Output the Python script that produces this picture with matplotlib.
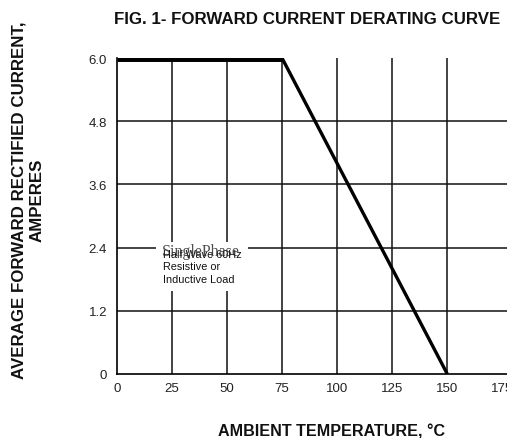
import matplotlib
matplotlib.use("Agg")
import matplotlib.pyplot as plt

# ---- data ----
temp_c = [0, 75, 150]
current_a = [6.0, 6.0, 0.0]
x_ticks = [0, 25, 50, 75, 100, 125, 150, 175]
x_tick_labels = ["0", "25", "50", "75", "100", "125", "150", "175"]
x_grid = [25, 50, 75, 100, 125, 150]
y_ticks = [0, 1.2, 2.4, 3.6, 4.8, 6.0]
y_tick_labels = ["0", "1.2", "2.4", "3.6", "4.8", "6.0"]

title = "FIG. 1- FORWARD CURRENT DERATING CURVE"
xlabel = "AMBIENT TEMPERATURE, \u00b0C"
ylabel = "AVERAGE FORWARD RECTIFIED CURRENT,\nAMPERES"

plt.rcParams['font.family'] = ['Liberation Sans', 'DejaVu Sans']

W, H = 507, 439
fig = plt.figure(figsize=(W / 100, H / 100), dpi=100)
left_px, right_px, top_px, bot_px = 116.7, 557.5, 59, 375
ax = fig.add_axes([left_px / W, (H - bot_px) / H, (right_px - left_px) / W, (bot_px - top_px) / H])
ax.set_xlim(0, 200)
ax.set_ylim(0, 6.0)

# grid
ax.vlines(x_grid, 0, 6.0, colors='#111111', linewidth=1.1, zorder=1)
for yv in y_ticks[1:-1]:
    ax.axhline(yv, color='#111111', linewidth=1.1, zorder=1)

# curve
ax.plot(temp_c[:2], current_a[:2], color='black', linewidth=5, solid_capstyle='butt', zorder=3)
ax.plot(temp_c[1:], current_a[1:], color='black', linewidth=2.4, solid_capstyle='butt', zorder=3)

for s in ['top', 'right']:
    ax.spines[s].set_visible(False)
for s in ['left', 'bottom']:
    ax.spines[s].set_linewidth(1.2)

ax.set_xticks(x_ticks)
ax.set_xticklabels(x_tick_labels)
ax.set_yticks(y_ticks)
ax.set_yticklabels(y_tick_labels)
ax.tick_params(axis='both', length=0, labelsize=9.5, labelcolor='#222222')
ax.tick_params(axis='x', pad=6)
ax.tick_params(axis='y', pad=7)

# annotation box
ax.text(20.8, 2.38, "Half Wave 60Hz\nResistive or\nInductive Load", fontsize=7.8,
        va='top', ha='left', linespacing=1.32, color='#111111', zorder=4,
        bbox=dict(facecolor='white', edgecolor='none', pad=5))
ax.text(20.3, 2.33, "SinglePhase", fontsize=11.5, family='Liberation Serif',
        va='center', ha='left', color='#222222', alpha=0.8, zorder=5)

# titles
fig.text(307 / W, 1 - 19 / H, title, fontsize=12.2, fontweight='bold', ha='center', va='center',
         color='#111111')
fig.text(332 / W, 1 - 432 / H, xlabel, fontsize=11.6, fontweight='bold', ha='center', va='center',
         color='#111111')
fig.text(28 / W, 1 - 200 / H, ylabel, fontsize=12.2, fontweight='bold', ha='center', va='center',
         rotation=90, linespacing=1.3, multialignment='center', color='#111111')

fig.savefig("out.png", dpi=100)
